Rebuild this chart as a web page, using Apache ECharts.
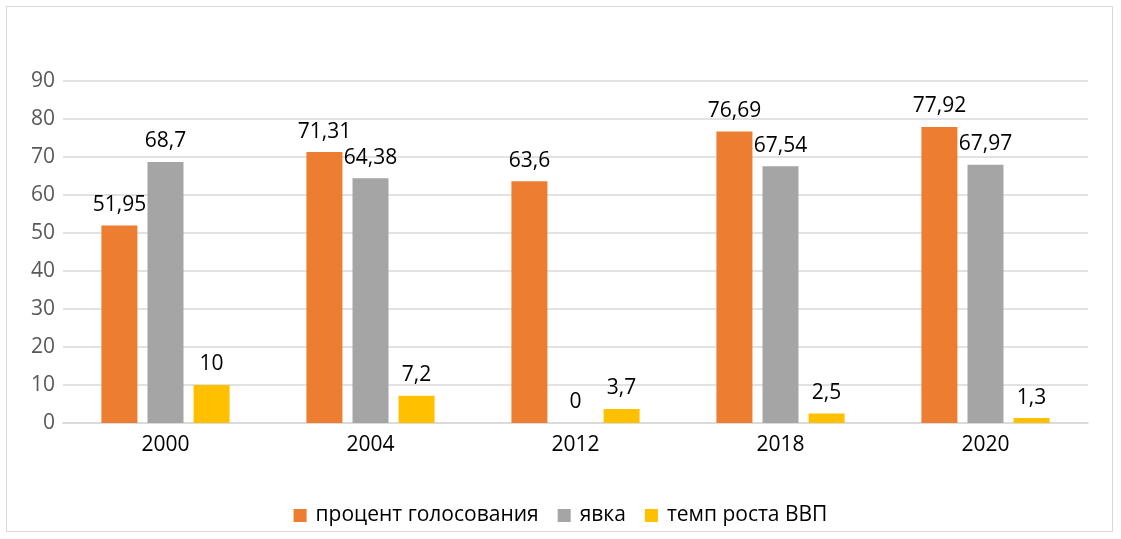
<!DOCTYPE html>
<html>
<head>
<meta charset="utf-8">
<script src="https://cdn.jsdelivr.net/npm/echarts@6/dist/echarts.min.js"></script>
<style>
  html, body { margin: 0; padding: 0; background: #fff; }
  #chart { width: 1121px; height: 539px; }
  .frame { position: absolute; left: 6px; top: 6px; width: 1107px; height: 526px; border: 1.5px solid #d9d9d9; box-sizing: border-box; pointer-events: none; }
</style>
</head>
<body>
<div id="chart"></div>
<div class="frame"></div>
<script>
const years = ['2000', '2004', '2012', '2018', '2020'];
const votePercent = [51.95, 71.31, 63.6, 76.69, 77.92];
const turnout = [68.7, 64.38, 0, 67.54, 67.97];
const gdpGrowth = [10, 7.2, 3.7, 2.5, 1.3];
const seriesNames = ['процент голосования', 'явка', 'темп роста ВВП'];
const colors = ['#ED7D31', '#A5A5A5', '#FFC000'];

const chart = echarts.init(document.getElementById('chart'));

const fmt = p => String(p.value).replace('.', ',');

function makeSeries (name, data, color) {
  return {
    name: name,
    type: 'bar',
    data: data,
    barWidth: 36,
    barGap: '28%',
    itemStyle: { color: color },
    label: {
      show: true,
      position: 'top',
      distance: 10,
      color: '#000',
      fontSize: 21,
      fontFamily: 'Open Sans',
      formatter: fmt
    }
  };
}

const option = {
  animation: false,
  textStyle: { fontFamily: 'Open Sans' },
  grid: { left: 63, right: 33, top: 81, bottom: 116 },
  legend: {
    top: 500,
    left: 'center',
    itemWidth: 13,
    itemHeight: 13,
    itemGap: 19,
    icon: 'rect',
    textStyle: { fontSize: 21, color: '#000', fontFamily: 'Open Sans', padding: [0, 0, 0, 4] },
    data: seriesNames
  },
  xAxis: {
    type: 'category',
    data: years,
    axisLine: { lineStyle: { color: '#d9d9d9', width: 1.5 } },
    axisTick: { show: false },
    axisLabel: { fontSize: 21, color: '#000', margin: 12 }
  },
  yAxis: {
    type: 'value',
    min: 0,
    max: 90,
    interval: 10,
    axisLine: { show: false },
    axisTick: { show: false },
    axisLabel: { fontSize: 21, color: '#595959', margin: 8 },
    splitLine: { lineStyle: { color: '#d9d9d9', width: 1.5 } }
  },
  series: [
    makeSeries(seriesNames[0], votePercent, colors[0]),
    makeSeries(seriesNames[1], turnout, colors[1]),
    makeSeries(seriesNames[2], gdpGrowth, colors[2])
  ]
};

chart.setOption(option);
</script>
</body>
</html>
